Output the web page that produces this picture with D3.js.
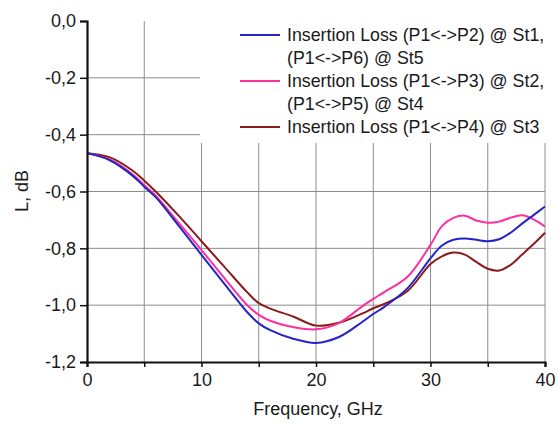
<!DOCTYPE html>
<html>
<head>
<meta charset="utf-8">
<script src="https://cdn.jsdelivr.net/npm/d3@7"></script>
<style>
  body { margin: 0; background: #fff; }
  text { font-family: "Liberation Sans", Arial, sans-serif; fill: #1a1a1a; }
</style>
</head>
<body>
<div class="chart"></div>
<script>
// Data (frequency in GHz, loss in dB)
var freq = [0, 2, 4, 5, 6, 8, 10, 12, 14, 15, 16, 18, 20, 22, 24, 25, 26, 28, 30, 31, 32, 33, 34, 35, 36, 37, 38, 39, 40];
var lossP2 = [-0.465, -0.49, -0.545, -0.583, -0.62, -0.72, -0.823, -0.925, -1.025, -1.064, -1.088, -1.118, -1.133, -1.112, -1.06, -1.031, -1.005, -0.94, -0.835, -0.79, -0.77, -0.765, -0.77, -0.775, -0.768, -0.745, -0.713, -0.683, -0.653];
var lossP3 = [-0.465, -0.488, -0.54, -0.578, -0.615, -0.71, -0.806, -0.905, -1.0, -1.034, -1.055, -1.077, -1.085, -1.063, -1.005, -0.978, -0.953, -0.9, -0.788, -0.722, -0.693, -0.685, -0.702, -0.71, -0.706, -0.692, -0.684, -0.698, -0.723];
var lossP4 = [-0.465, -0.48, -0.527, -0.562, -0.6, -0.685, -0.775, -0.865, -0.955, -0.993, -1.012, -1.04, -1.072, -1.062, -1.03, -1.011, -0.995, -0.95, -0.855, -0.828, -0.815, -0.822, -0.848, -0.872, -0.878, -0.858, -0.822, -0.785, -0.745];

var seriesNames = [
  ["Insertion Loss (P1<->P2) @ St1,", "(P1<->P6) @ St5"],
  ["Insertion Loss (P1<->P3) @ St2,", "(P1<->P5) @ St4"],
  ["Insertion Loss (P1<->P4) @ St3"]
];
var seriesColors = ["#2424c8", "#ff2f9e", "#8a1c1c"];
var xTicks = [0, 5, 10, 15, 20, 25, 30, 35, 40];
var xLabels = [0, 10, 20, 30, 40];
var yTicks = [0, -0.2, -0.4, -0.6, -0.8, -1.0, -1.2];

// Setup chart
var svgWidth = 559;
var svgHeight = 425;
var margin = { top: 21, right: 14, bottom: 63, left: 87 };
var width = svgWidth - margin.left - margin.right;
var height = svgHeight - margin.top - margin.bottom;

var svg = d3.select(".chart")
  .append("svg")
  .attr("width", svgWidth)
  .attr("height", svgHeight);
var chart = svg.append("g")
  .attr("transform", "translate(" + margin.left + "," + margin.top + ")");

var x = d3.scaleLinear().domain([0, 40]).range([0, width]);
var y = d3.scaleLinear().domain([-1.2, 0]).range([height, 0]);

// grid
chart.selectAll(".vgrid")
  .data(xTicks.slice(1))
  .enter().append("line")
  .attr("x1", function(d) { return x(d); })
  .attr("x2", function(d) { return x(d); })
  .attr("y1", 0)
  .attr("y2", height)
  .attr("stroke", "#8c8c8c")
  .attr("stroke-width", 1);

chart.selectAll(".hgrid")
  .data(yTicks.slice(1, 6))
  .enter().append("line")
  .attr("x1", 0)
  .attr("x2", width)
  .attr("y1", function(d) { return y(d); })
  .attr("y2", function(d) { return y(d); })
  .attr("stroke", "#8c8c8c")
  .attr("stroke-width", 1);

// legend background hides the grid behind it
chart.append("rect")
  .attr("x", x(10) - 1.5)
  .attr("y", -margin.top)
  .attr("width", width - x(10) + margin.right + 2)
  .attr("height", 122 + margin.top)
  .attr("fill", "#fff");

// curves
var allSeries = [lossP2, lossP3, lossP4];
var line = d3.line()
  .x(function(d, i) { return x(freq[i]); })
  .y(function(d) { return y(d); })
  .curve(d3.curveCatmullRom.alpha(0.5));

chart.selectAll(".curve")
  .data([lossP4, lossP3, lossP2])
  .enter().append("path")
  .attr("d", line)
  .attr("fill", "none")
  .attr("stroke", function(d) { return seriesColors[allSeries.indexOf(d)]; })
  .attr("stroke-width", 2);

// axes
var bottomAxis = d3.axisBottom(x)
  .tickValues(xTicks)
  .tickSize(5)
  .tickFormat(function(d) { return xLabels.indexOf(d) >= 0 ? d : ""; });
var leftAxis = d3.axisLeft(y)
  .tickValues(yTicks)
  .tickSize(7)
  .tickFormat(function(d) { return d3.format(".1f")(d).replace(".", ",").replace("−", "-"); });

var xg = chart.append("g")
  .attr("transform", "translate(0," + height + ")")
  .call(bottomAxis);
var yg = chart.append("g")
  .call(leftAxis);

[xg, yg].forEach(function(g) {
  g.select(".domain").attr("stroke", "#111").attr("stroke-width", 2.2);
  g.selectAll(".tick line").attr("stroke", "#111").attr("stroke-width", 1.5);
  g.selectAll(".tick text")
    .attr("font-size", "18px")
    .attr("font-family", "Liberation Sans, Arial, sans-serif")
    .attr("fill", "#1a1a1a");
});
xg.selectAll(".tick text").attr("y", 11);
yg.selectAll(".tick text").attr("x", -11);

// axis titles
chart.append("text")
  .attr("transform", "translate(" + (28 - margin.left) + "," + (191 - margin.top) + ") rotate(-90)")
  .attr("text-anchor", "middle")
  .attr("font-size", "18px")
  .text("L, dB");

chart.append("text")
  .attr("x", x(20) + 2)
  .attr("y", 415 - margin.top)
  .attr("text-anchor", "middle")
  .attr("font-size", "18px")
  .text("Frequency, GHz");

// legend
var rowY = [35, 81, 127];
var legend = svg.append("g");
seriesNames.forEach(function(lines, i) {
  legend.append("line")
    .attr("x1", 240)
    .attr("x2", 280)
    .attr("y1", rowY[i])
    .attr("y2", rowY[i])
    .attr("stroke", seriesColors[i])
    .attr("stroke-width", 2);
  lines.forEach(function(t, j) {
    legend.append("text")
      .attr("x", 287)
      .attr("y", rowY[i] + 6 + j * 23)
      .attr("font-size", "17.8px")
      .text(t);
  });
});
</script>
</body>
</html>
